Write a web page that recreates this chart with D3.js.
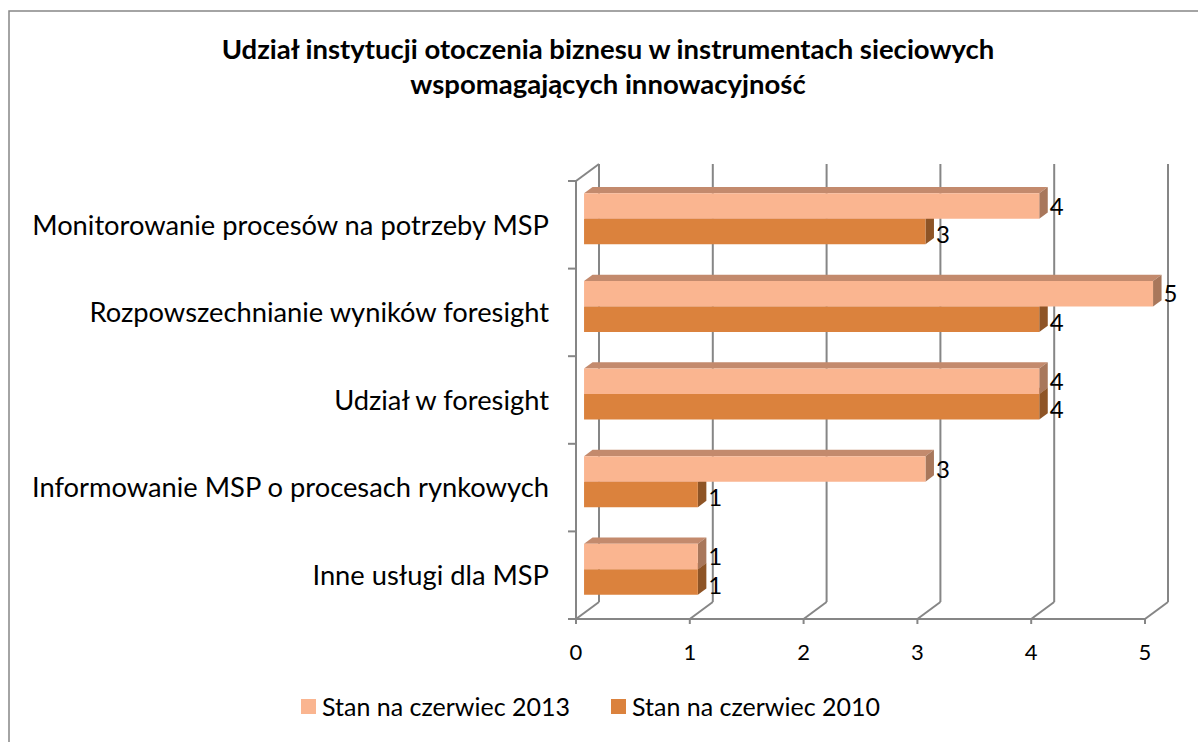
<!DOCTYPE html>
<html>
<head>
<meta charset="utf-8">
<script src="https://cdn.jsdelivr.net/npm/d3@7"></script>
<style>
  body { margin: 0; background: #fff; }
  text { font-family: Lato, "Open Sans", sans-serif; fill: #000; }
</style>
</head>
<body>
<div id="chart"></div>
<script>
const categories = [
	"Monitorowanie procesów na potrzeby MSP",
	"Rozpowszechnianie wyników foresight",
	"Udział w foresight",
	"Informowanie MSP o procesach rynkowych",
	"Inne usługi dla MSP",
];
const series = ["Stan na czerwiec 2013", "Stan na czerwiec 2010"];
const values2013 = [4, 5, 4, 3, 1];
const values2010 = [3, 4, 4, 1, 1];
const ticks = [0, 1, 2, 3, 4, 5];

const width = 1198;
const height = 742;

const svg = d3
	.select("#chart")
	.append("svg")
	.attr("width", width)
	.attr("height", height);

// chart frame (only top/left edges fall inside the window)
svg.append("rect")
	.attr("x", 9).attr("y", 11)
	.attr("width", 1400).attr("height", 900)
	.attr("fill", "none")
	.attr("stroke", "#868686")
	.attr("stroke-width", 1.5);

// title
svg.append("text")
	.attr("x", 608).attr("y", 59)
	.attr("text-anchor", "middle")
	.style("font-weight", 700)
	.style("font-size", "27.5px")
	.selectAll("tspan")
	.data(["Udział instytucji otoczenia biznesu w instrumentach sieciowych", "wspomagających innowacyjność"])
	.join("tspan")
	.attr("x", 608)
	.attr("dy", (d, i) => (i ? 35 : 0))
	.text(d => d);

// 3D box geometry: front plane + depth offset
const DX = 23, DY = -17;
const d1 = 0.35, d2 = 0.72; // bar depth range
const p = (x, y, d) => [x + d * DX, y + d * DY];

const x = d3.scaleLinear().domain([0, 5]).range([576, 1145]);
const y = d3.scaleBand().domain(categories).range([181, 619]);
const inner = d3.scaleBand().domain(series).range([0, 51]);
const groupOff = (y.bandwidth() - 51) / 2;

const color = {
	"Stan na czerwiec 2013": { front: "#fab590", top: "#c38a6d", side: "#a8775b" },
	"Stan na czerwiec 2010": { front: "#db823d", top: "#b0683a", side: "#8e5426" },
};

const grid = svg.append("g")
	.attr("stroke", "#868686")
	.attr("stroke-width", 2)
	.attr("fill", "none");

const floorY = y.range()[1];
const topY = y.range()[0];

// back wall gridlines
grid.selectAll(".back")
	.data(ticks)
	.join("line")
	.attr("x1", d => p(x(d), floorY, 1)[0])
	.attr("x2", d => p(x(d), floorY, 1)[0])
	.attr("y1", p(0, topY, 1)[1])
	.attr("y2", p(0, floorY, 1)[1]);

// floor diagonals
grid.selectAll(".diag")
	.data(ticks)
	.join("line")
	.attr("x1", d => x(d))
	.attr("y1", floorY)
	.attr("x2", d => p(x(d), floorY, 1)[0])
	.attr("y2", p(0, floorY, 1)[1]);

// front floor line + ticks
grid.append("line")
	.attr("x1", x(0) - 8).attr("x2", x(5))
	.attr("y1", floorY).attr("y2", floorY);
grid.selectAll(".xt")
	.data(ticks)
	.join("line")
	.attr("x1", d => x(d)).attr("x2", d => x(d))
	.attr("y1", floorY).attr("y2", floorY + 5);

// left wall
grid.append("line")
	.attr("x1", x(0)).attr("x2", x(0))
	.attr("y1", topY).attr("y2", floorY);
grid.append("line")
	.attr("x1", x(0)).attr("y1", topY)
	.attr("x2", p(x(0), topY, 1)[0]).attr("y2", p(x(0), topY, 1)[1]);
grid.selectAll(".yt")
	.data(d3.range(categories.length + 1))
	.join("line")
	.attr("x1", x(0) - 8).attr("x2", x(0))
	.attr("y1", i => topY + i * y.step())
	.attr("y2", i => topY + i * y.step());

// bars
const rows = [];
categories.forEach((c, i) => {
	// draw lower bar first so the upper one paints over it
	rows.push({ cat: c, s: series[1], v: values2010[i] });
	rows.push({ cat: c, s: series[0], v: values2013[i] });
});

const poly = pts => pts.map(q => q.join(",")).join(" ");

const bars = svg.append("g")
	.selectAll("g")
	.data(rows)
	.join("g");

bars.each(function (d) {
	const g = d3.select(this);
	const yt = y(d.cat) + groupOff + inner(d.s);
	const yb = yt + inner.bandwidth();
	const x0 = x(0), x1 = x(d.v);
	const c = color[d.s];
	g.append("polygon")
		.attr("points", poly([p(x0, yt, d1), p(x1, yt, d1), p(x1, yt, d2), p(x0, yt, d2)]))
		.attr("fill", c.top);
	g.append("polygon")
		.attr("points", poly([p(x1, yt, d1), p(x1, yt, d2), p(x1, yb, d2), p(x1, yb, d1)]))
		.attr("fill", c.side);
	g.append("polygon")
		.attr("points", poly([p(x0, yt, d1), p(x1, yt, d1), p(x1, yb, d1), p(x0, yb, d1)]))
		.attr("fill", c.front);
});

// value labels (the lower series sits a little lower, as in Excel)
svg.append("g")
	.selectAll("text")
	.data(rows)
	.join("text")
	.attr("x", d => p(x(d.v), 0, d2)[0] + 2)
	.attr("y", d => p(0, y(d.cat) + groupOff + inner(d.s) + inner.bandwidth() / 2, d1)[1] + (d.s === series[1] ? 3 : 0))
	.attr("dy", "0.36em")
	.style("font-size", "24px")
	.text(d => d.v);

// category labels
svg.append("g")
	.selectAll("text")
	.data(categories)
	.join("text")
	.attr("x", 549)
	.attr("y", d => y(d) + y.bandwidth() / 2)
	.attr("dy", "0.36em")
	.attr("text-anchor", "end")
	.style("font-size", "27.3px")
	.text(d => d);

// x tick labels
svg.append("g")
	.selectAll("text")
	.data(ticks)
	.join("text")
	.attr("x", d => x(d))
	.attr("y", 652)
	.attr("dy", "0.36em")
	.attr("text-anchor", "middle")
	.style("font-size", "22px")
	.text(d => d);

// legend
const legend = svg.append("g")
	.selectAll("g")
	.data(series)
	.join("g")
	.attr("transform", (d, i) => `translate(${[301, 611][i]},699)`);
legend.append("rect")
	.attr("width", 15).attr("height", 15)
	.attr("fill", d => color[d].front);
legend.append("text")
	.attr("x", 21).attr("y", 8)
	.attr("dy", "0.36em")
	.style("font-size", "25px")
	.text(d => d);
</script>
</body>
</html>
